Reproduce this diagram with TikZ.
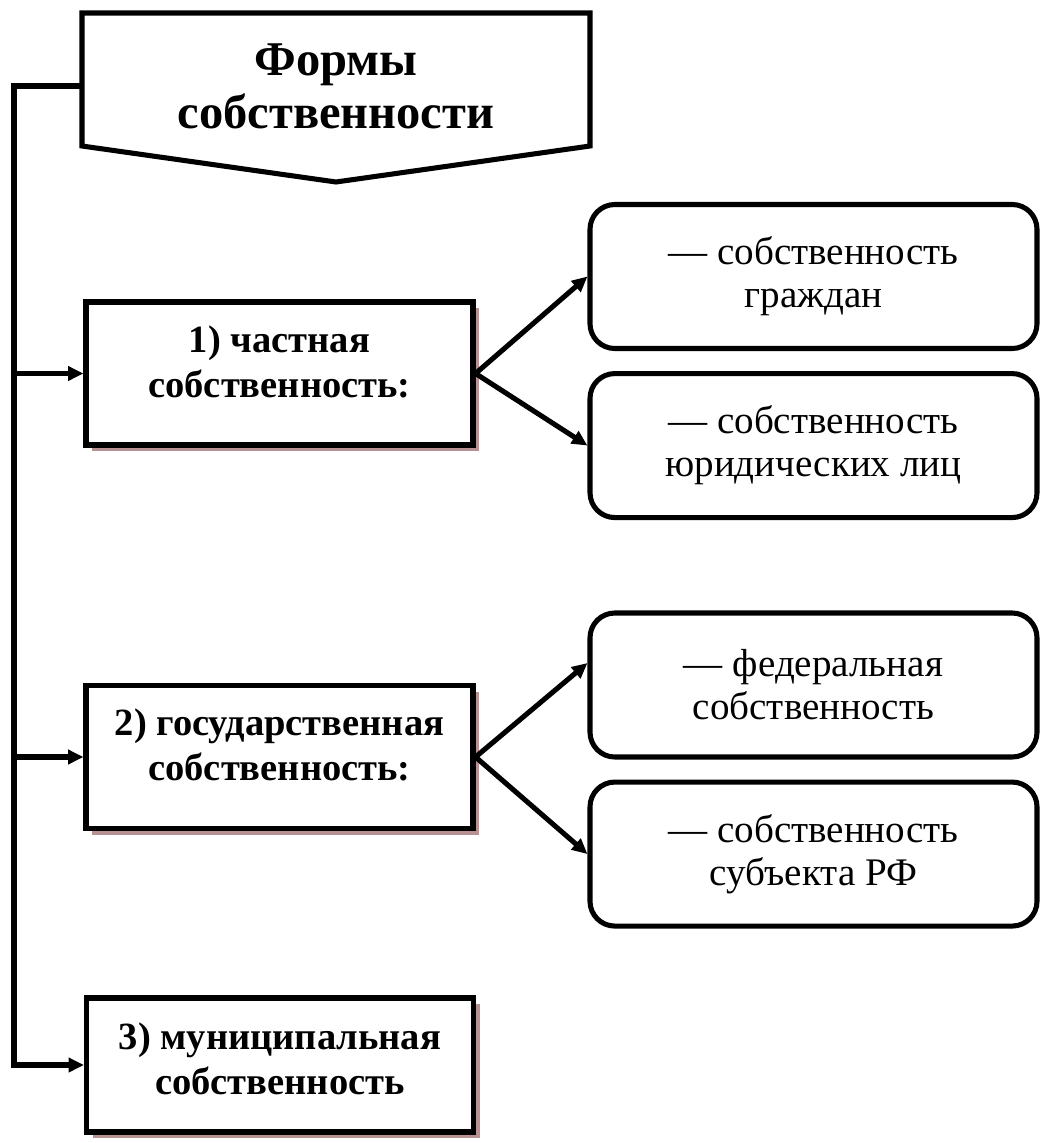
\documentclass[tikz,border=0pt]{standalone}
\usepackage{fontspec}
\setmainfont{Liberation Serif}
\usetikzlibrary{arrows.meta, positioning, calc, shadows}
\definecolor{shadowc}{RGB}{184,146,146}

\begin{document}
\begin{tikzpicture}[
line width=3.6pt,
headbox/.style={rectangle, outer sep=0pt, minimum width=12.7cm, minimum height=3.325cm},
headtext/.style={align=center, font=\fontsize{34.5}{37.6}\selectfont\bfseries},
form/.style={rectangle, draw=black, fill=white, minimum width=9.675cm, minimum height=3.575cm, drop shadow={shadow xshift=0.15cm, shadow yshift=-0.15cm, fill=shadowc, opacity=1}},
formtext/.style={align=center, font=\fontsize{27.4}{32}\selectfont\bfseries},
kind/.style={rectangle, rounded corners=0.62cm, draw=black, minimum width=11.175cm, minimum height=3.6cm, align=center, font=\fontsize{27.8}{30.5}\selectfont},
arr/.style={-{Triangle[length=11pt,width=10pt]}}
]
\useasboundingbox (0,0) rectangle (26.025,-28.575);

% Title
\node[headbox] (title) at (8.4,-1.9875) {};
\node[headtext] (titlet) at ([yshift=-0.17cm]title.center) {Формы\\собственности};
\draw (title.north west) -- (title.north east) -- (title.south east) -- ([yshift=-0.9cm]title.south) -- (title.south west) -- cycle;

% Forms
\node[form] (b1) at (6.9875,-9.3375) {};
\node[formtext] (b1t) at ([yshift=0.3cm]b1.center) {1) частная\\собственность:};
\node[form] (b2) at (6.9875,-18.925) {};
\node[formtext] (b2t) at ([yshift=0.3cm]b2.center) {2) государственная\\собственность:};
\node[form, minimum height=3.35cm] (b3) at (7.0,-26.625) {};
\node[formtext] (b3t) at ([yshift=0.15cm]b3.center) {3) муниципальная\\собственность};

% Kinds
\node[kind] (r1) at (20.3375,-6.9125) {— собственность\\граждан};
\node[kind, below=0.5cm of r1] (r2) {— собственность\\юридических лиц};
\node[kind] (r3) at (20.3375,-17.125) {— федеральная\\собственность};
\node[kind, below=0.5cm of r3] (r4) {— собственность\\субъекта РФ};

% Spine
\coordinate (top) at (0.35,-2.15);
\draw[arr] (top -| title.west) -- (top) |- (b3);
\draw[arr] (top |- b1) -- (b1);
\draw[arr] (top |- b2) -- (b2);

% Forks
\draw[arr] (b1.east) -- (r1.west);
\draw[arr] (b1.east) -- (r2.west);
\draw[arr] (b2.east) -- ([yshift=0.55cm]r3.west);
\draw[arr] (b2.east) -- (r4.west);

\end{tikzpicture}
\end{document}
